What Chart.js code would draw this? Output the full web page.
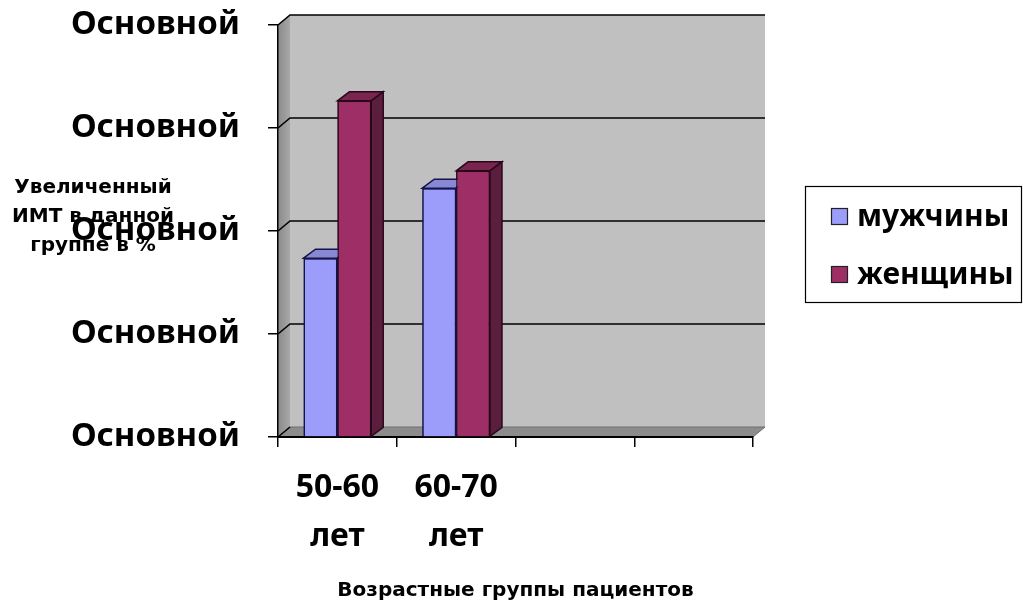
<!DOCTYPE html>
<html>
<head>
<meta charset="utf-8">
<script src="https://cdn.jsdelivr.net/npm/chart.js@4.4.1/dist/chart.umd.min.js"></script>
<style>
    html, body { margin: 0; padding: 0; background: #fff; }
    #wrap { width: 1023px; height: 605px; position: relative; }
</style>
</head>
<body>
<div id="wrap"><canvas id="bmiChart"></canvas></div>
<script>
// DATA
const AGE_GROUPS = [['50-60', 'лет'], ['60-70', 'лет'], '', ''];
const MEN = [43.4, 60.4, null, null];
const WOMEN = [81.6, 64.6, null, null];
const Y_TICKS = [0, 25, 50, 75, 100];
const Y_TICK_LABEL = 'Основной'; // the source shows this text on every tick
const SERIES_NAMES = ['мужчины', 'женщины'];
const Y_TITLE = ['Увеличенный', 'ИМТ в данной', 'группе в %'];
const X_TITLE = 'Возрастные группы пациентов';

const BIG_FONT = { family: "'Noto Sans', sans-serif", size: 33, weight: 'bold' };
const WALL_DX = 12, WALL_DY = -10;
const BAR_DX = 12, BAR_DY = -9;

const poly = (ctx, pts, fill, stroke, lw = 1) => {
    ctx.beginPath();
    ctx.moveTo(pts[0][0], pts[0][1]);
    pts.slice(1).forEach(p => ctx.lineTo(p[0], p[1]));
    ctx.closePath();
    if (fill) { ctx.fillStyle = fill; ctx.fill(); }
    if (stroke) { ctx.strokeStyle = stroke; ctx.lineWidth = lw; ctx.stroke(); }
};

// back wall, side wall, floor and the gridlines that sit on them
const walls3d = {
    id: 'walls3d',
    beforeDraw(chart) {
        const { ctx, chartArea: a } = chart;
        const ys = chart.scales.y;
        ctx.save();
        ctx.fillStyle = '#c0c0c0';
        ctx.fillRect(a.left + WALL_DX, a.top + WALL_DY, a.width, a.height);
        const side = ctx.createLinearGradient(a.left, 0, a.left + WALL_DX, 0);
        side.addColorStop(0, '#8a8a8a');
        side.addColorStop(1, '#a8a8a8');
        poly(ctx, [[a.left, a.top], [a.left + WALL_DX, a.top + WALL_DY], [a.left + WALL_DX, a.bottom + WALL_DY], [a.left, a.bottom]], side);
        poly(ctx, [[a.left, a.bottom], [a.left + WALL_DX, a.bottom + WALL_DY], [a.right + WALL_DX, a.bottom + WALL_DY], [a.right, a.bottom]], '#8c8c8c', '#6e6e6e');
        ctx.strokeStyle = '#000';
        ctx.lineWidth = 1.6;
        ys.ticks.forEach(t => {
            const y = ys.getPixelForValue(t.value);
            ctx.beginPath();
            ctx.moveTo(a.left, y);
            ctx.lineTo(a.left + WALL_DX, y + WALL_DY);
            if (t.value !== Y_TICKS[0]) ctx.lineTo(a.right + WALL_DX, y + WALL_DY);
            ctx.stroke();
        });
        ctx.restore();
    },
    afterDraw(chart) {
        const { ctx } = chart;
        ctx.save();
        // y title, drawn flat like the source
        ctx.fillStyle = '#000';
        ctx.font = "bold 20px 'DejaVu Sans', sans-serif";
        ctx.textAlign = 'center';
        ctx.textBaseline = 'middle';
        Y_TITLE.forEach((line, i) => ctx.fillText(line, 93, 188 + i * 29));
        // legend box
        ctx.fillStyle = '#fff';
        ctx.fillRect(805, 186, 216, 116);
        ctx.strokeStyle = '#000';
        ctx.lineWidth = 1.2;
        ctx.strokeRect(805.5, 186.5, 216, 116);
        ctx.font = `bold 30px ${BIG_FONT.family}`;
        ctx.textAlign = 'left';
        chart.data.datasets.forEach((ds, i) => {
            const cy = 216 + i * 58;
            ctx.fillStyle = ds.backgroundColor;
            ctx.fillRect(831, cy - 8, 17, 17);
            ctx.strokeStyle = '#222';
            ctx.lineWidth = 1.2;
            ctx.strokeRect(831.5, cy - 7.5, 16, 16);
            ctx.fillStyle = '#000';
            ctx.fillText(ds.label, 857, cy + 1);
        });
        ctx.restore();
    }
};

// redraw bars left to right with their top and side faces so the nearer bar covers the one behind
const bars3d = {
    id: 'bars3d',
    afterDatasetsDraw(chart) {
        const { ctx } = chart;
        const metas = chart.data.datasets.map((_, i) => chart.getDatasetMeta(i));
        ctx.save();
        chart.data.labels.forEach((_, i) => {
            metas.forEach((meta, d) => {
                const ds = chart.data.datasets[d];
                if (ds.data[i] == null) return;
                const bar = meta.data[i];
                bar.draw(ctx, chart.chartArea);
                const { x, y, base, width } = bar.getProps(['x', 'y', 'base', 'width'], true);
                const l = x - width / 2, r = x + width / 2;
                poly(ctx, [[l, y], [l + BAR_DX, y + BAR_DY], [r + BAR_DX, y + BAR_DY], [r, y]], ds.topColor, ds.borderColor, 1.5);
                poly(ctx, [[r, y], [r + BAR_DX, y + BAR_DY], [r + BAR_DX, base + BAR_DY], [r, base]], ds.sideColor, ds.borderColor, 1.5);
            });
        });
        ctx.restore();
    }
};

new Chart(document.getElementById('bmiChart'), {
    type: 'bar',
    data: {
        labels: AGE_GROUPS,
        datasets: [
            { label: SERIES_NAMES[0], data: MEN, backgroundColor: '#9c9cfa', topColor: '#8888d4', sideColor: '#6e6ebc', borderColor: '#14144a', borderWidth: 1.5 },
            { label: SERIES_NAMES[1], data: WOMEN, backgroundColor: '#9e2e66', topColor: '#7a2450', sideColor: '#5c1e3e', borderColor: '#2a0818', borderWidth: 1.5 }
        ]
    },
    options: {
        responsive: true,
        maintainAspectRatio: false,
        animation: false,
        layout: { padding: { left: 0, right: 270, top: 25, bottom: 0 } },
        datasets: { bar: { categoryPercentage: 0.57, barPercentage: 1 } },
        plugins: { legend: { display: false }, tooltip: { enabled: false } },
        scales: {
            x: {
                grid: { drawOnChartArea: false, drawTicks: true, tickLength: 10, color: '#000', lineWidth: 1.5 },
                border: { display: true, color: '#000', width: 2 },
                ticks: { color: '#000', font: { ...BIG_FONT, size: 32, lineHeight: 1.53 }, padding: 16, maxRotation: 0, autoSkip: false },
                title: { display: true, text: X_TITLE, color: '#000', font: { family: "'DejaVu Sans', sans-serif", size: 20, weight: 'bold' }, padding: { top: 0, bottom: 2 } },
                afterFit: s => { s.height = 168; }
            },
            y: {
                min: Y_TICKS[0],
                max: Y_TICKS[Y_TICKS.length - 1],
                grid: { drawOnChartArea: false, drawTicks: true, tickLength: 10, color: '#000', lineWidth: 1.5 },
                border: { display: true, color: '#000', width: 1.5 },
                ticks: { stepSize: Y_TICKS[1] - Y_TICKS[0], color: '#000', font: BIG_FONT, padding: 28, callback: () => Y_TICK_LABEL },
                afterFit: s => { s.width = 278; s.paddingTop = 0; s.paddingBottom = 0; }
            }
        }
    },
    plugins: [walls3d, bars3d]
});
</script>
</body>
</html>
